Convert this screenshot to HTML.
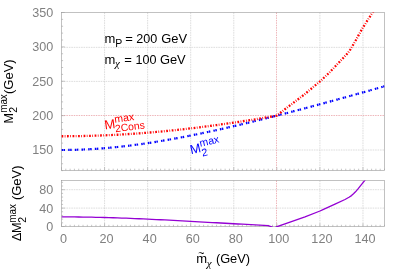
<!DOCTYPE html>
<html><head><meta charset="utf-8"><title>plot</title><style>html,body{margin:0;padding:0;background:#fff}svg{display:block;will-change:transform}</style></head><body>
<svg width="400" height="280" viewBox="0 0 400 280">
<rect width="400" height="280" fill="#fff"/>
<defs><clipPath id="cu"><rect x="61.50" y="12.50" width="323.00" height="157.90"/></clipPath><clipPath id="cl"><rect x="61.50" y="180.50" width="323.00" height="46.60"/></clipPath></defs>
<path d="M104.57,12.50V170.40M104.57,180.50V226.50M147.63,12.50V170.40M147.63,180.50V226.50M190.70,12.50V170.40M190.70,180.50V226.50M233.77,12.50V170.40M233.77,180.50V226.50M319.90,12.50V170.40M319.90,180.50V226.50M362.97,12.50V170.40M362.97,180.50V226.50M61.50,150.00H384.50M61.50,81.40H384.50M61.50,47.35H384.50M61.50,208.10H384.50M61.50,189.70H384.50" stroke="#d4d4d4" stroke-width="0.8" stroke-dasharray="1.6 0.85" fill="none"/>
<path d="M276.5,12.50V170.40M276.5,180.50V226.50M61.50,115.5H384.50" stroke="#ecaeb2" stroke-width="0.9" stroke-dasharray="1.5 0.95" fill="none"/>
<rect x="61.50" y="12.50" width="323.00" height="157.90" fill="none" stroke="#989898" stroke-width="0.6"/>
<rect x="61.50" y="180.50" width="323.00" height="46.00" fill="none" stroke="#989898" stroke-width="0.6"/>
<path d="M61.50,170.40v-3.20M61.50,226.50v-3.20M65.81,170.40v-1.70M65.81,226.50v-1.70M70.11,170.40v-1.70M70.11,226.50v-1.70M74.42,170.40v-1.70M74.42,226.50v-1.70M78.73,170.40v-1.70M78.73,226.50v-1.70M83.03,170.40v-1.70M83.03,226.50v-1.70M87.34,170.40v-1.70M87.34,226.50v-1.70M91.65,170.40v-1.70M91.65,226.50v-1.70M95.95,170.40v-1.70M95.95,226.50v-1.70M100.26,170.40v-1.70M100.26,226.50v-1.70M104.57,170.40v-3.20M104.57,226.50v-3.20M108.87,170.40v-1.70M108.87,226.50v-1.70M113.18,170.40v-1.70M113.18,226.50v-1.70M117.49,170.40v-1.70M117.49,226.50v-1.70M121.79,170.40v-1.70M121.79,226.50v-1.70M126.10,170.40v-1.70M126.10,226.50v-1.70M130.41,170.40v-1.70M130.41,226.50v-1.70M134.71,170.40v-1.70M134.71,226.50v-1.70M139.02,170.40v-1.70M139.02,226.50v-1.70M143.33,170.40v-1.70M143.33,226.50v-1.70M147.63,170.40v-3.20M147.63,226.50v-3.20M151.94,170.40v-1.70M151.94,226.50v-1.70M156.25,170.40v-1.70M156.25,226.50v-1.70M160.55,170.40v-1.70M160.55,226.50v-1.70M164.86,170.40v-1.70M164.86,226.50v-1.70M169.17,170.40v-1.70M169.17,226.50v-1.70M173.47,170.40v-1.70M173.47,226.50v-1.70M177.78,170.40v-1.70M177.78,226.50v-1.70M182.09,170.40v-1.70M182.09,226.50v-1.70M186.39,170.40v-1.70M186.39,226.50v-1.70M190.70,170.40v-3.20M190.70,226.50v-3.20M195.01,170.40v-1.70M195.01,226.50v-1.70M199.31,170.40v-1.70M199.31,226.50v-1.70M203.62,170.40v-1.70M203.62,226.50v-1.70M207.93,170.40v-1.70M207.93,226.50v-1.70M212.23,170.40v-1.70M212.23,226.50v-1.70M216.54,170.40v-1.70M216.54,226.50v-1.70M220.85,170.40v-1.70M220.85,226.50v-1.70M225.15,170.40v-1.70M225.15,226.50v-1.70M229.46,170.40v-1.70M229.46,226.50v-1.70M233.77,170.40v-3.20M233.77,226.50v-3.20M238.07,170.40v-1.70M238.07,226.50v-1.70M242.38,170.40v-1.70M242.38,226.50v-1.70M246.69,170.40v-1.70M246.69,226.50v-1.70M250.99,170.40v-1.70M250.99,226.50v-1.70M255.30,170.40v-1.70M255.30,226.50v-1.70M259.61,170.40v-1.70M259.61,226.50v-1.70M263.91,170.40v-1.70M263.91,226.50v-1.70M268.22,170.40v-1.70M268.22,226.50v-1.70M272.53,170.40v-1.70M272.53,226.50v-1.70M276.83,170.40v-3.20M276.83,226.50v-3.20M281.14,170.40v-1.70M281.14,226.50v-1.70M285.45,170.40v-1.70M285.45,226.50v-1.70M289.75,170.40v-1.70M289.75,226.50v-1.70M294.06,170.40v-1.70M294.06,226.50v-1.70M298.37,170.40v-1.70M298.37,226.50v-1.70M302.67,170.40v-1.70M302.67,226.50v-1.70M306.98,170.40v-1.70M306.98,226.50v-1.70M311.29,170.40v-1.70M311.29,226.50v-1.70M315.59,170.40v-1.70M315.59,226.50v-1.70M319.90,170.40v-3.20M319.90,226.50v-3.20M324.21,170.40v-1.70M324.21,226.50v-1.70M328.51,170.40v-1.70M328.51,226.50v-1.70M332.82,170.40v-1.70M332.82,226.50v-1.70M337.13,170.40v-1.70M337.13,226.50v-1.70M341.43,170.40v-1.70M341.43,226.50v-1.70M345.74,170.40v-1.70M345.74,226.50v-1.70M350.05,170.40v-1.70M350.05,226.50v-1.70M354.35,170.40v-1.70M354.35,226.50v-1.70M358.66,170.40v-1.70M358.66,226.50v-1.70M362.97,170.40v-3.20M362.97,226.50v-3.20M367.27,170.40v-1.70M367.27,226.50v-1.70M371.58,170.40v-1.70M371.58,226.50v-1.70M375.89,170.40v-1.70M375.89,226.50v-1.70M380.19,170.40v-1.70M380.19,226.50v-1.70M384.50,170.40v-1.70M384.50,226.50v-1.70M61.50,170.62h1.60M61.50,163.75h1.60M61.50,156.88h1.60M61.50,150.00h3.20M61.50,143.12h1.60M61.50,136.25h1.60M61.50,129.38h1.60M61.50,122.50h1.60M61.50,115.62h3.20M61.50,108.75h1.60M61.50,101.88h1.60M61.50,95.00h1.60M61.50,88.12h1.60M61.50,81.25h3.20M61.50,74.38h1.60M61.50,67.50h1.60M61.50,60.62h1.60M61.50,53.75h1.60M61.50,46.88h3.20M61.50,40.00h1.60M61.50,33.12h1.60M61.50,26.25h1.60M61.50,19.38h1.60M61.50,12.50h3.20M61.50,226.50h3.20M61.50,222.82h1.60M61.50,219.14h1.60M61.50,215.46h1.60M61.50,211.78h1.60M61.50,208.10h3.20M61.50,204.42h1.60M61.50,200.74h1.60M61.50,197.06h1.60M61.50,193.38h1.60M61.50,189.70h3.20M61.50,186.02h1.60M61.50,182.34h1.60" stroke="#a0a0a0" stroke-width="0.6" fill="none"/>
<path d="M61.50,150.00 L65.81,149.98 L70.11,149.93 L74.42,149.84 L78.73,149.71 L83.03,149.54 L87.34,149.34 L91.65,149.11 L95.95,148.84 L100.26,148.54 L104.57,148.20 L108.87,147.83 L113.18,147.42 L117.49,146.99 L121.79,146.52 L126.10,146.03 L130.41,145.50 L134.71,144.95 L139.02,144.37 L143.33,143.76 L147.63,143.12 L151.94,142.47 L156.25,141.78 L160.55,141.07 L164.86,140.34 L169.17,139.59 L173.47,138.82 L177.78,138.03 L182.09,137.21 L186.39,136.38 L190.70,135.53 L195.01,134.66 L199.31,133.78 L203.62,132.88 L207.93,131.96 L212.23,131.03 L216.54,130.09 L220.85,129.13 L225.15,128.15 L229.46,127.17 L233.77,126.17 L238.07,125.16 L242.38,124.14 L246.69,123.11 L250.99,122.07 L255.30,121.02 L259.61,119.96 L263.91,118.89 L268.22,117.81 L272.53,116.72 L276.83,115.62 L281.14,114.52 L285.45,113.41 L289.75,112.29 L294.06,111.16 L298.37,110.03 L302.67,108.89 L306.98,107.75 L311.29,106.60 L315.59,105.44 L319.90,104.27 L324.21,103.11 L328.51,101.93 L332.82,100.75 L337.13,99.57 L341.43,98.38 L345.74,97.19 L350.05,95.99 L354.35,94.79 L358.66,93.58 L362.97,92.37 L367.27,91.16 L371.58,89.94 L375.89,88.72 L380.19,87.49 L384.50,86.27" clip-path="url(#cu)" stroke="#0000ff" stroke-width="2.2" stroke-dasharray="1.5 0.5 1.5 3.17" fill="none"/>
<path d="M61.50,136.25 L65.81,136.24 L70.11,136.21 L74.42,136.17 L78.73,136.10 L83.03,136.02 L87.34,135.92 L91.65,135.81 L95.95,135.67 L100.26,135.52 L104.57,135.35 L108.87,135.16 L113.18,134.95 L117.49,134.73 L121.79,134.49 L126.10,134.23 L130.41,133.95 L134.71,133.66 L139.02,133.35 L143.33,133.03 L147.63,132.68 L151.94,132.33 L156.25,131.95 L160.55,131.56 L164.86,131.15 L169.17,130.73 L173.47,130.29 L177.78,129.84 L182.09,129.37 L186.39,128.89 L190.70,128.39 L195.01,127.87 L199.31,127.35 L203.62,126.80 L207.93,126.25 L212.23,125.68 L216.54,125.10 L220.85,124.50 L225.15,123.89 L229.46,123.27 L233.77,122.63 L238.07,121.99 L242.38,121.33 L246.69,120.65 L250.99,119.97 L255.30,119.27 L259.61,118.57 L263.91,117.85 L268.22,117.12 L272.53,116.38 L276.80,115.60 L285.00,109.20 L295.00,101.60 L305.00,94.00 L308.50,91.00 L320.50,81.00 L329.00,73.00 L339.50,61.90 L344.00,57.20 L348.00,52.80 L349.70,50.60 L351.20,48.20 L354.00,43.30 L357.00,38.20 L359.00,34.40 L362.00,29.10 L365.00,24.30 L368.00,19.50 L371.00,15.00 L374.40,10.00" clip-path="url(#cu)" stroke="#ff0000" stroke-width="2.3" stroke-dasharray="1.75 1.45 0.75 1.57" fill="none"/>
<path d="M61.50,216.91 L65.81,216.91 L70.11,216.93 L74.42,216.96 L78.73,217.01 L83.03,217.06 L87.34,217.13 L91.65,217.21 L95.95,217.30 L100.26,217.40 L104.57,217.51 L108.87,217.63 L113.18,217.76 L117.49,217.91 L121.79,218.06 L126.10,218.21 L130.41,218.38 L134.71,218.56 L139.02,218.74 L143.33,218.93 L147.63,219.12 L151.94,219.32 L156.25,219.53 L160.55,219.74 L164.86,219.96 L169.17,220.18 L173.47,220.40 L177.78,220.63 L182.09,220.86 L186.39,221.09 L190.70,221.33 L195.01,221.57 L199.31,221.81 L203.62,222.05 L207.93,222.29 L212.23,222.53 L216.54,222.77 L220.85,223.01 L225.15,223.26 L229.46,223.50 L233.77,223.74 L238.07,223.98 L242.38,224.22 L246.69,224.46 L250.99,224.70 L255.30,224.94 L259.61,225.18 L263.91,225.41 L268.22,225.65 L272.80,227.30" clip-path="url(#cl)" stroke="#9400d3" stroke-width="1.3" fill="none" stroke-linejoin="round"/>
<path d="M275.60,227.20 L277.00,226.70 L290.00,222.10 L305.00,216.80 L320.00,211.00 L323.50,209.30 L335.00,204.20 L345.00,199.50 L349.00,197.30 L351.50,195.60 L353.50,193.80 L355.50,191.80 L358.00,188.90 L362.00,183.90 L365.60,179.40" clip-path="url(#cl)" stroke="#9400d3" stroke-width="1.3" fill="none" stroke-linejoin="round"/>
<g font-family="'Liberation Sans', sans-serif" fill="#808080">
<text transform="translate(53.30,154.30) scale(1.025,1)" font-size="12.3" text-anchor="end">150</text>
<text transform="translate(53.30,119.92) scale(1.025,1)" font-size="12.3" text-anchor="end">200</text>
<text transform="translate(53.30,85.55) scale(1.025,1)" font-size="12.3" text-anchor="end">250</text>
<text transform="translate(53.30,51.17) scale(1.025,1)" font-size="12.3" text-anchor="end">300</text>
<text transform="translate(53.30,16.80) scale(1.025,1)" font-size="12.3" text-anchor="end">350</text>
<text transform="translate(53.30,231.00) scale(1.025,1)" font-size="12.3" text-anchor="end">0</text>
<text transform="translate(53.30,212.60) scale(1.025,1)" font-size="12.3" text-anchor="end">40</text>
<text transform="translate(53.30,194.20) scale(1.025,1)" font-size="12.3" text-anchor="end">80</text>
<text transform="translate(63.50,243.20) scale(1.020,1)" font-size="12.4" text-anchor="middle">0</text>
<text transform="translate(106.57,243.20) scale(1.020,1)" font-size="12.4" text-anchor="middle">20</text>
<text transform="translate(149.63,243.20) scale(1.020,1)" font-size="12.4" text-anchor="middle">40</text>
<text transform="translate(192.70,243.20) scale(1.020,1)" font-size="12.4" text-anchor="middle">60</text>
<text transform="translate(235.77,243.20) scale(1.020,1)" font-size="12.4" text-anchor="middle">80</text>
<text transform="translate(278.83,243.20) scale(1.020,1)" font-size="12.4" text-anchor="middle">100</text>
<text transform="translate(321.90,243.20) scale(1.020,1)" font-size="12.4" text-anchor="middle">120</text>
<text transform="translate(364.97,243.20) scale(1.020,1)" font-size="12.4" text-anchor="middle">140</text>
</g>
<g font-family="'Liberation Sans', sans-serif" fill="#000">
<text transform="translate(104.40,43.20) scale(1.000,1)" font-size="13" text-anchor="start">m</text>
<text transform="translate(115.30,46.80) scale(1.000,1)" font-size="10.5" text-anchor="start">P</text>
<text transform="translate(125.20,43.20) scale(1.000,1)" font-size="13" text-anchor="start">=</text>
<text transform="translate(136.30,43.20) scale(0.970,1)" font-size="13" text-anchor="start">200</text>
<text transform="translate(161.30,43.20) scale(1.000,1)" font-size="12.9" text-anchor="start">GeV</text>
<text transform="translate(104.40,64.20) scale(1.000,1)" font-size="13" text-anchor="start">m</text>
<text transform="translate(115.0,66.80)" font-family="'Liberation Serif', serif" font-style="italic" font-size="11">χ</text>
<text transform="translate(124.20,64.20) scale(1.000,1)" font-size="13" text-anchor="start">=</text>
<text transform="translate(135.60,64.20) scale(0.970,1)" font-size="13" text-anchor="start">100</text>
<text transform="translate(159.90,64.20) scale(1.000,1)" font-size="12.9" text-anchor="start">GeV</text>
<g transform="translate(12.5,123.5) rotate(-90)"><text transform="translate(0.00,0.00) scale(1.000,1)" font-size="12.5" text-anchor="start">M</text><text transform="translate(10.80,-5.75) scale(0.940,1)" font-size="10.4" text-anchor="start">max</text><text transform="translate(10.80,4.20) scale(1.000,1)" font-size="10.4" text-anchor="start">2</text><text transform="translate(29.50,0.00) scale(1.000,1)" font-size="13" text-anchor="start">(GeV)</text></g>
<g transform="translate(21.1,241.1) rotate(-90)"><text transform="translate(0.00,0.00) scale(1.000,1)" font-size="12.5" text-anchor="start">Δ</text><text transform="translate(8.00,0.00) scale(1.000,1)" font-size="12.6" text-anchor="start">M</text><text transform="translate(18.40,-5.30) scale(0.950,1)" font-size="10.4" text-anchor="start">max</text><text transform="translate(18.40,4.40) scale(1.000,1)" font-size="10.4" text-anchor="start">2</text><text transform="translate(41.00,0.00) scale(1.000,1)" font-size="13" text-anchor="start">(GeV)</text></g>
<text transform="translate(196.20,262.50) scale(1.000,1)" font-size="13" text-anchor="start">m</text><text transform="translate(198.20,256.90) scale(1.000,1)" font-size="10.5" text-anchor="start">~</text><text transform="translate(206.8,266.5)" font-family="'Liberation Serif', serif" font-style="italic" font-size="11">χ</text><text transform="translate(215.90,262.50) scale(1.000,1)" font-size="12.8" text-anchor="start">(GeV)</text>
</g>
<g font-family="'Liberation Sans', sans-serif" fill="#ff0000" transform="translate(105.0,129.6) rotate(-7.5)"><text transform="translate(0.00,0.00) scale(1.000,1)" font-size="13" text-anchor="start">M</text><text transform="translate(10.60,-5.60) scale(1.000,1)" font-size="10.5" text-anchor="start">max</text><text transform="translate(10.00,4.00) scale(1.000,1)" font-size="10.4" text-anchor="start">2Cons</text></g>
<g font-family="'Liberation Sans', sans-serif" fill="#0000ff" transform="translate(190.9,154.3) rotate(-12.5)"><text transform="translate(0.00,0.00) scale(1.000,1)" font-size="13" text-anchor="start">M</text><text transform="translate(10.90,-5.40) scale(1.000,1)" font-size="10.5" text-anchor="start">max</text><text transform="translate(10.90,4.60) scale(1.000,1)" font-size="10.5" text-anchor="start">2</text></g>
</svg>
</body></html>
